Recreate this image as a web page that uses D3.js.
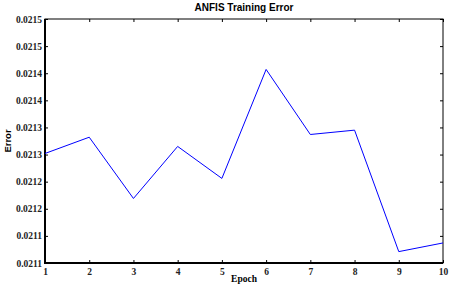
<!DOCTYPE html>
<html>
<head>
	<meta charset="utf-8">
	<style>
		body { margin: 0; background: #fff; }
		.tick text { font-family: "Liberation Serif", serif; font-weight: bold; font-size: 9.5px; fill: #222; }
	</style>
</head>
<body>
	<div id="graph"></div>

	<script src="https://cdnjs.cloudflare.com/ajax/libs/d3/7.8.5/d3.min.js"></script>
	<script>
		const epochs = [1, 2, 3, 4, 5, 6, 7, 8, 9, 10];
		const errors = [0.021262, 0.021292, 0.021179, 0.021275, 0.021216, 0.021417, 0.021297, 0.021305, 0.021081, 0.021097];

		const yTicks = [0.02106, 0.02111, 0.02116, 0.02121, 0.02126, 0.02131, 0.02136, 0.02141, 0.02146, 0.02151];
		const yTickLabels = ['0.0211', '0.0211', '0.0212', '0.0212', '0.0213', '0.0213', '0.0214', '0.0214', '0.0215', '0.0215'];

		const W = 452, H = 286;
		const margin = { left: 45, top: 19, right: 9, bottom: 23 };
		const w = W - margin.left - margin.right;
		const h = H - margin.top - margin.bottom;

		const svg = d3.select('#graph')
			.append('svg')
			.attr('width', W)
			.attr('height', H);

		const g = svg.append('g')
			.attr('transform', `translate(${margin.left}, ${margin.top})`);

		const x = d3.scaleLinear().domain([1, 10]).range([0, w]);
		const y = d3.scaleLinear().domain([yTicks[0], yTicks[yTicks.length - 1]]).range([h, 0]);

		const xAxis = d3.axisBottom(x).tickValues(epochs).tickSize(-3).tickPadding(5).tickFormat(d3.format('d'));
		const yAxis = d3.axisLeft(y).tickValues(yTicks).tickSize(-3).tickPadding(3)
			.tickFormat((d, i) => yTickLabels[i]);

		g.append('g').attr('transform', `translate(0, ${h})`).call(xAxis)
			.call(a => a.select('.domain').remove());
		g.append('g').call(yAxis)
			.call(a => a.select('.domain').remove());

		// mirrored ticks on top and right
		g.append('g').call(d3.axisTop(x).tickValues(epochs).tickSize(-3).tickFormat(''))
			.call(a => a.select('.domain').remove());
		g.append('g').attr('transform', `translate(${w}, 0)`)
			.call(d3.axisRight(y).tickValues(yTicks).tickSize(-3).tickFormat(''))
			.call(a => a.select('.domain').remove());

		g.selectAll('.tick line').attr('stroke', '#000');

		g.append('rect')
			.attr('width', w).attr('height', h)
			.attr('fill', 'none')
			.attr('stroke', '#000')
			.attr('stroke-width', 1);

		// heavier left and bottom axis lines
		g.append('path')
			.attr('d', `M0,0V${h}H${w}`)
			.attr('fill', 'none')
			.attr('stroke', '#000')
			.attr('stroke-width', 2);

		const line = d3.line()
			.x((d, i) => x(epochs[i]))
			.y(d => y(d));

		g.append('path')
			.attr('d', line(errors))
			.attr('fill', 'none')
			.attr('stroke', '#0000ff')
			.attr('stroke-width', 1);

		svg.append('text')
			.attr('x', margin.left + w / 2).attr('y', 11)
			.attr('text-anchor', 'middle')
			.style('font-family', 'Liberation Sans, sans-serif')
			.style('font-weight', 'bold')
			.style('font-size', '10px')
			.text('ANFIS Training Error');

		svg.append('text')
			.attr('x', margin.left + w / 2).attr('y', 282)
			.attr('text-anchor', 'middle')
			.style('font-family', 'Liberation Serif, serif')
			.style('font-weight', 'bold')
			.style('font-size', '9.5px')
			.text('Epoch');

		svg.append('text')
			.attr('transform', `translate(11, ${margin.top + h / 2}) rotate(-90)`)
			.attr('text-anchor', 'middle')
			.style('font-family', 'Liberation Sans, sans-serif')
			.style('font-weight', 'bold')
			.style('font-size', '9.5px')
			.text('Error');
	</script>
</body>
</html>
